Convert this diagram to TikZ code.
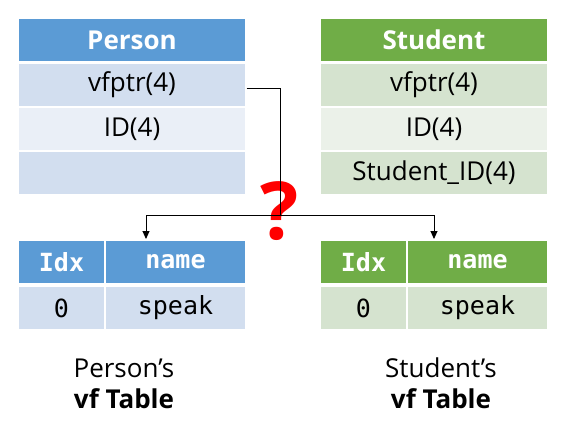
\documentclass[tikz,border=0pt]{standalone}
\usepackage{fontspec}
\setmainfont{Open Sans}
\setmonofont{DejaVu Sans Mono}
\usetikzlibrary{arrows.meta}
\definecolor{pblue}{HTML}{5B9BD5}
\definecolor{pbl1}{HTML}{D2DEEF}
\definecolor{pbl2}{HTML}{EAEFF7}
\definecolor{sgreen}{HTML}{70AD47}
\definecolor{sgr1}{HTML}{D5E3CF}
\definecolor{sgr2}{HTML}{EBF1E9}
\definecolor{qred}{HTML}{FF0000}
\tikzset{
  cell/.style={inner sep=0pt, minimum height=42pt, font=\fontsize{26}{28}\selectfont},
  wide/.style={cell, minimum width=226pt},
  hdr/.style={font=\fontsize{26}{28}\selectfont\bfseries, text=white},
  idxc/.style={cell, minimum width=85pt, font=\ttfamily\fontsize{25}{28}\selectfont},
  namec/.style={cell, minimum width=139pt, font=\ttfamily\fontsize{25}{28}\selectfont},
  mhdr/.style={font=\ttfamily\bfseries\fontsize{25}{28}\selectfont, text=white},
  conn/.style={draw=black, line width=0.9pt},
  arr/.style={conn, -{Triangle[length=8pt,width=7pt]}},
  captxt/.style={anchor=base, inner sep=0pt, font=\fontsize{26}{28}\selectfont}
}
\begin{document}
\begin{tikzpicture}[x=1pt,y=-1pt]
\useasboundingbox (0,0) rectangle (568,436);
% Person
\node[wide, hdr, fill=pblue] (p0) at (132,40) {Person};
\node[wide, fill=pbl1] (p1) at (132,85) {vfptr(4)};
\node[wide, fill=pbl2] (p2) at (132,129) {ID(4)};
\node[wide, fill=pbl1] (p3) at (132,173) {};
% Student
\node[wide, hdr, fill=sgreen] (s0) at (434,40) {Student};
\node[wide, fill=sgr1] (s1) at (434,85) {vfptr(4)};
\node[wide, fill=sgr2] (s2) at (434,129) {ID(4)};
\node[wide, fill=sgr1] (s3) at (434,173) {Student\_ID(4)};
% vf tables
\node[idxc, mhdr, fill=pblue] (lh1) at (61.5,262) {Idx};
\node[namec, mhdr, fill=pblue] (lh2) at (175.5,262) {name};
\node[idxc, fill=pbl1] (lr1) at (61.5,308) {0};
\node[namec, fill=pbl1] (lr2) at (175.5,308) {speak};
\node[idxc, mhdr, fill=sgreen] (rh1) at (363.5,262) {Idx};
\node[namec, mhdr, fill=sgreen] (rh2) at (477.5,262) {name};
\node[idxc, fill=sgr1] (rr1) at (363.5,308) {0};
\node[namec, fill=sgr1] (rr2) at (477.5,308) {speak};
% captions
\node[captxt] (lc1) at (124,377) {Person’s};
\node[captxt, font=\fontsize{26}{28}\selectfont\bfseries] (lc2) at (124,408) {vf Table};
\node[captxt] (rc1) at (441,377) {Student’s};
\node[captxt, font=\fontsize{26}{28}\selectfont\bfseries] (rc2) at (441,408) {vf Table};
% question mark
\node[inner sep=0pt, text=qred, font=\fontsize{80}{80}\selectfont\bfseries] (q) at (280,211) {?};
% connectors
\coordinate (j) at (280,215);
\coordinate (la) at (146,239);
\coordinate (ra) at (434,239);
\draw[conn] ([xshift=1.5pt,yshift=-3pt]p1.east) -| (j);
\draw[arr] (j) -| (la);
\draw[arr] (j) -| (ra);
\end{tikzpicture}
\end{document}
